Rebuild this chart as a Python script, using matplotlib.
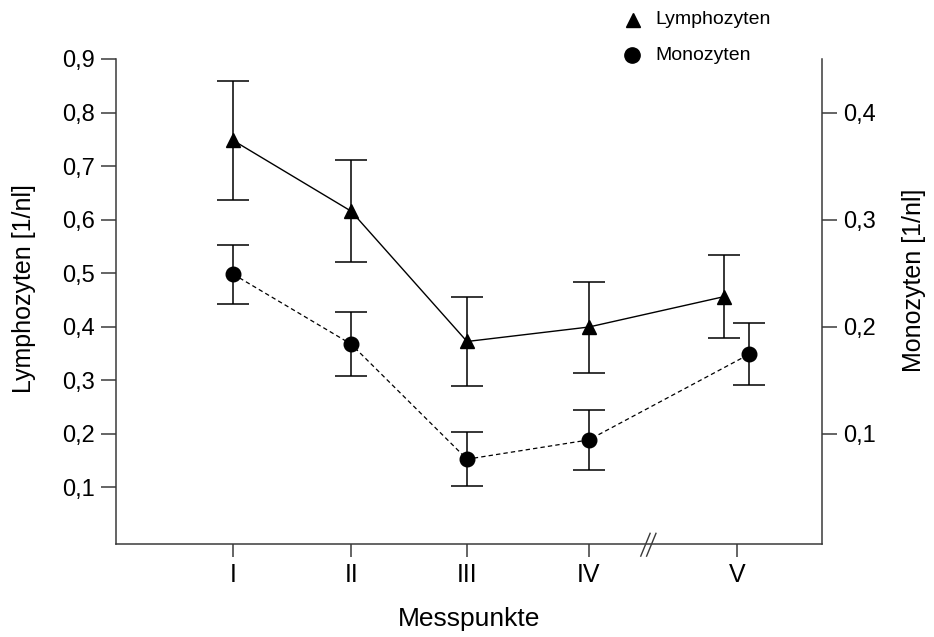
import matplotlib
matplotlib.use("Agg")
import matplotlib.pyplot as plt
from matplotlib.lines import Line2D

plt.rcParams['font.family'] = ['Liberation Sans', 'DejaVu Sans']

# Measuring points and values
messpunkte = ["I", "II", "III", "IV", "V"]
lymphozyten = [0.748, 0.6155, 0.372, 0.399, 0.456]
lymphozyten_err = [0.1115, 0.0955, 0.083, 0.085, 0.078]
monozyten = [0.249, 0.1835, 0.076, 0.094, 0.174]
monozyten_err = [0.0275, 0.0297, 0.025, 0.028, 0.029]

left_ticks = [0.1, 0.2, 0.3, 0.4, 0.5, 0.6, 0.7, 0.8, 0.9]
right_ticks = [0.1, 0.2, 0.3, 0.4]

# Horizontal layout (axis is broken between IV and V)
tick_pos = [1.0, 2.01, 3.0, 4.04, 5.31]
lymph_shift = [0, 0, 0, 0, -0.11]
mono_shift = [0, 0, 0, 0, 0.10]
break_pos = 4.55

fig = plt.figure(figsize=(9.34, 6.37), dpi=100)
ax = fig.add_axes([116 / 934, 1 - 544 / 637, (822 - 116) / 934, (544 - 59) / 637])
ax2 = ax.twinx()

spine_col = "#3a3a3a"
line_col = "black"

lx = [p + s for p, s in zip(tick_pos, lymph_shift)]
mx = [p + s for p, s in zip(tick_pos, mono_shift)]

ax.errorbar(lx, lymphozyten, yerr=lymphozyten_err, fmt="none", ecolor=line_col,
            elinewidth=1.1, capsize=11.5, capthick=1.1, zorder=2)
ax.plot(lx, lymphozyten, color=line_col, lw=1.0, marker="^", markersize=10,
        markerfacecolor="black", markeredgecolor="black", zorder=3)

ax2.errorbar(mx, monozyten, yerr=monozyten_err, fmt="none", ecolor=line_col,
             elinewidth=1.1, capsize=11.5, capthick=1.1, zorder=2)
ax2.plot(mx, monozyten, color=line_col, lw=0.9, linestyle=(0, (3.5, 2.5)),
         marker="o", markersize=10.5, markerfacecolor="black",
         markeredgecolor="black", zorder=3)

ax.set_xlim(0, 6.034)
ax.set_ylim(-0.0065, 0.9)
ax2.set_ylim(-0.00325, 0.45)

ax.set_xticks(tick_pos)
ax.set_xticklabels(messpunkte, fontsize=18)
ax.set_yticks(left_ticks)
ax.set_yticklabels([f"{v:.1f}".replace(".", ",") for v in left_ticks], fontsize=17)
ax2.set_yticks(right_ticks)
ax2.set_yticklabels([f"{v:.1f}".replace(".", ",") for v in right_ticks], fontsize=17)

for a in (ax, ax2):
    a.spines["top"].set_visible(False)
    for s in a.spines.values():
        s.set_color(spine_col)
        s.set_linewidth(1.1)
ax.spines["right"].set_visible(False)
ax2.spines["left"].set_visible(False)
ax2.spines["bottom"].set_visible(False)

ax.tick_params(axis="y", direction="out", length=11, width=1.1, color=spine_col, pad=4)
ax.tick_params(axis="x", direction="out", length=9, width=1.1, color=spine_col, pad=5)
ax2.tick_params(axis="y", direction="out", length=11, width=1.1, color=spine_col, pad=4)

ax.set_xlabel("Messpunkte", fontsize=19, labelpad=14)
ax.set_ylabel("Lymphozyten [1/nl]", fontsize=18)
ax2.set_ylabel("Monozyten [1/nl]", fontsize=18)
ax.yaxis.set_label_coords(-0.114, 0.526)
ax2.yaxis.set_label_coords(1.114, 0.544)

# axis break marks
trans = ax.get_xaxis_transform()
for dx in (-0.025, 0.025):
    ax.add_line(Line2D([break_pos + dx - 0.04, break_pos + dx + 0.04],
                       [-0.025, 0.022], transform=trans, color=spine_col,
                       lw=1.0, clip_on=False))

# legend
fig.add_artist(Line2D([633 / 934], [1 - 20 / 637], marker="^", markersize=10,
                      color="black", linestyle="none", transform=fig.transFigure))
fig.add_artist(Line2D([632 / 934], [1 - 55 / 637], marker="o", markersize=11,
                      color="black", linestyle="none", transform=fig.transFigure))
fig.text(655 / 934, 1 - 20 / 637, "Lymphozyten", fontsize=14, ha="left", va="center")
fig.text(655 / 934, 1 - 55 / 637, "Monozyten", fontsize=14, ha="left", va="center")

fig.savefig("out.png", dpi=100)
